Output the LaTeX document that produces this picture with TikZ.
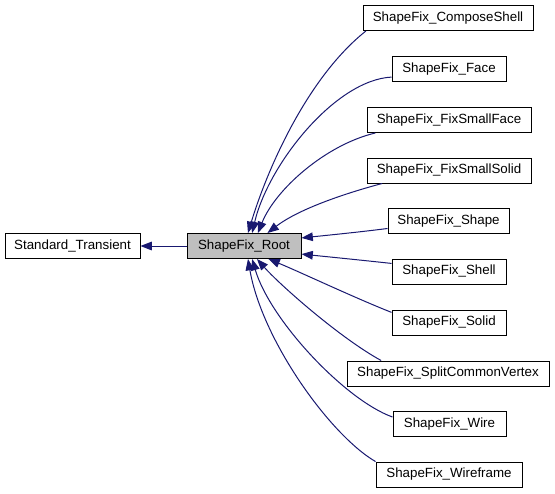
\documentclass[tikz,border=0pt]{standalone}
\usepackage{fontspec}
\setmainfont{Liberation Sans}
\usetikzlibrary{arrows.meta}
\definecolor{edgeblue}{HTML}{191970}
\definecolor{rootgray}{HTML}{BFBFBF}
\begin{document}
\begin{tikzpicture}[x=0.75pt,y=-0.75pt,
  cls/.style={draw, line width=0.75pt, minimum height=18.75pt, inner sep=0pt, font=\fontsize{10}{12}\selectfont},
  inh/.style={draw=edgeblue, line width=0.75pt, -{Triangle[length=8.5pt,width=6.5pt,fill=edgeblue]}}]
\useasboundingbox (0,0) rectangle (555,493);

\node[cls, minimum width=101.25pt] (st) at (72.5,246){Standard\_Transient};
\node[cls, minimum width=85.5pt, fill=rootgray] (root) at (244,246){ShapeFix\_Root};

\node[cls, minimum width=127.5pt] (cs) at (448,18){ShapeFix\_ComposeShell};
\node[cls, minimum width=85.5pt] (face) at (449,69){ShapeFix\_Face};
\node[cls, minimum width=123pt] (fsf) at (449,120){ShapeFix\_FixSmallFace};
\node[cls, minimum width=123pt] (fss) at (449,170.5){ShapeFix\_FixSmallSolid};
\node[cls, minimum width=90.75pt] (shape) at (448.5,221){ShapeFix\_Shape};
\node[cls, minimum width=85.5pt] (shell) at (449,271.5){ShapeFix\_Shell};
\node[cls, minimum width=85.5pt] (solid) at (449,322.5){ShapeFix\_Solid};
\node[cls, minimum width=151.5pt] (scv) at (448,373.5){ShapeFix\_SplitCommonVertex};
\node[cls, minimum width=84.75pt] (wire) at (449.5,424){ShapeFix\_Wire};
\node[cls, minimum width=109.5pt] (wf) at (449,474.5){ShapeFix\_Wireframe};

\draw[inh] (root) -- (st);

\draw[inh] (cs.189) .. controls (308,77) and (268,167) .. (root.73);
\draw[inh] (face.188) .. controls (335,80) and (268,165) .. (root.58);
\draw[inh] (fsf.190) .. controls (325,145) and (275,190) .. (root.43);
\draw[inh] (fss.191) .. controls (350,192) and (300,208) .. (root.29);
\draw[inh] (shape.187) .. controls (360,232) and (330,235) .. (root.8);
\draw[inh] (shell.172) .. controls (360,260) and (330,257) .. (root.-8);
\draw[inh] (solid.170) .. controls (355,298) and (300,272) .. (root.-28);
\draw[inh] (scv.169) .. controls (340,338) and (280,285) .. (root.-45);
\draw[inh] (wire.173) .. controls (345,400) and (270,320) .. (root.-58);
\draw[inh] (wf.170) .. controls (330,435) and (262,340) .. (root.-73);

\end{tikzpicture}
\end{document}
